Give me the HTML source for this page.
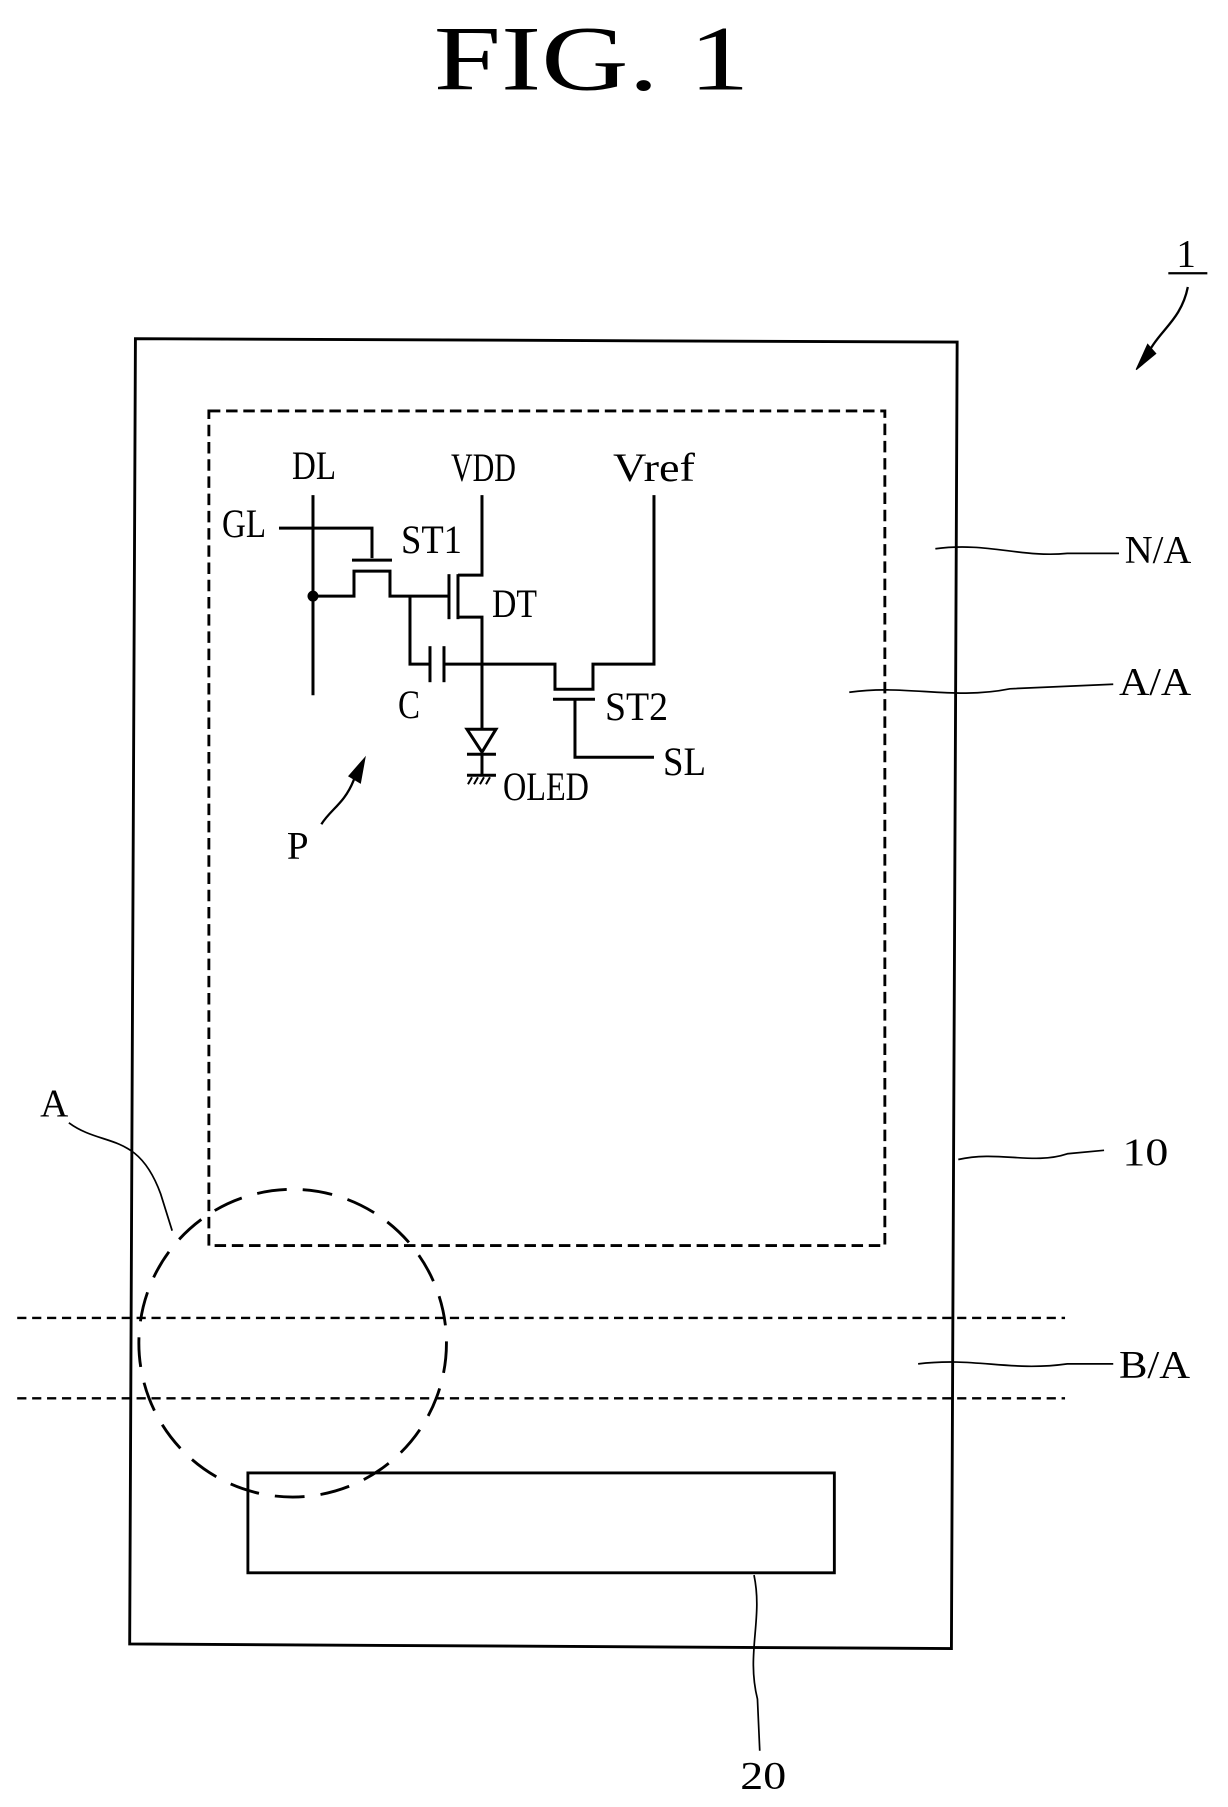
<!DOCTYPE html>
<html><head><meta charset="utf-8"><style>html,body{margin:0;padding:0;background:#fff}svg{display:block}</style></head>
<body>
<svg width="1228" height="1807" viewBox="0 0 1070 1574" preserveAspectRatio="none" xmlns="http://www.w3.org/2000/svg" font-family="'Liberation Serif',serif" fill="none" stroke="#000">
<text x="378" y="78" font-size="80" fill="#000" stroke="none" textLength="275" lengthAdjust="spacingAndGlyphs">FIG. 1</text>
<!-- label 1 -->
<text x="1025" y="232" font-size="34" fill="#000" stroke="none">1</text>
<line x1="1018" y1="238" x2="1052" y2="238" stroke-width="2"/>
<path d="M1035,250 C1030,275 1015,285 1005,300 L993,318" stroke-width="2"/>
<path d="M990,322 L1000,300 L1007,308 Z" fill="#000"/>
<!-- outer panel -->
<polygon points="118,295 834,298 829,1436 113,1432" stroke-width="2.5"/>
<!-- dashed active area -->
<rect x="182" y="358" width="589" height="727" stroke-width="2.5" stroke-dasharray="10,5"/>
<!-- circuit in original-pixel coordinates -->
<g transform="scale(0.8713)" stroke-width="3">
<g fill="#000" stroke="none" font-size="40">
<text x="292" y="479" textLength="44" lengthAdjust="spacingAndGlyphs">DL</text>
<text x="451" y="481" textLength="65" lengthAdjust="spacingAndGlyphs">VDD</text>
<text x="613" y="481" textLength="82" lengthAdjust="spacingAndGlyphs">Vref</text>
<text x="222" y="537" textLength="44" lengthAdjust="spacingAndGlyphs">GL</text>
<text x="401" y="553" textLength="61" lengthAdjust="spacingAndGlyphs">ST1</text>
<text x="492" y="617" textLength="45" lengthAdjust="spacingAndGlyphs">DT</text>
<text x="398" y="718" textLength="22" lengthAdjust="spacingAndGlyphs">C</text>
<text x="605" y="720" textLength="63" lengthAdjust="spacingAndGlyphs">ST2</text>
<text x="663" y="775" textLength="43" lengthAdjust="spacingAndGlyphs">SL</text>
<text x="503" y="800" textLength="86" lengthAdjust="spacingAndGlyphs">OLED</text>
</g>
<line x1="313" y1="495" x2="313" y2="695"/>
<polyline points="279,528 372,528 372,558"/>
<line x1="352" y1="560" x2="392" y2="560"/>
<polyline points="313,596 354,596 354,571 390,571 390,596 449,596"/>
<circle cx="313" cy="596" r="4" fill="#000"/>
<polyline points="410,596 410,664 430,664"/>
<line x1="430" y1="646" x2="430" y2="682"/>
<line x1="444" y1="646" x2="444" y2="682"/>
<polyline points="444,664 555,664 555,689 593,689 593,664 654,664 654,495"/>
<line x1="449" y1="574" x2="449" y2="619"/>
<line x1="458" y1="574" x2="458" y2="619"/>
<polyline points="458,575 482,575 482,495"/>
<polyline points="458,617 482,617 482,729"/>
<polygon points="467,729 496,729 482,752"/>
<line x1="467" y1="754" x2="496" y2="754"/>
<line x1="482" y1="754" x2="482" y2="775"/>
<line x1="467" y1="775" x2="496" y2="775"/>
<path d="M472,777 l-4,7 M478,777 l-4,7 M484,777 l-4,7 M490,777 l-4,7" stroke-width="2"/>
<line x1="553" y1="699" x2="595" y2="699"/>
<polyline points="575,699 575,757 654,757"/>
</g>
<!-- P -->
<text x="250" y="748" font-size="34" fill="#000" stroke="none">P</text>
<path d="M280,718 C288,705 300,700 308,680 L312,670" stroke-width="2"/>
<path d="M318,660 L304,676 L314,682 Z" fill="#000"/>
<!-- leaders & labels -->
<g font-size="34" fill="#000" stroke="none">
<text x="980" y="490" textLength="58" lengthAdjust="spacingAndGlyphs">N/A</text>
<text x="975" y="605" textLength="63" lengthAdjust="spacingAndGlyphs">A/A</text>
<text x="978" y="1015" textLength="40" lengthAdjust="spacingAndGlyphs">10</text>
<text x="975" y="1200" textLength="62" lengthAdjust="spacingAndGlyphs">B/A</text>
<text x="35" y="972">A</text>
<text x="645" y="1558" textLength="40" lengthAdjust="spacingAndGlyphs">20</text>
</g>
<g stroke-width="1.5">
<path d="M815,478 C860,472 890,486 930,482 L975,482"/>
<path d="M740,603 C790,596 830,610 880,600 L970,596"/>
<path d="M835,1010 C870,1002 900,1015 930,1005 L962,1002"/>
<path d="M800,1188 C850,1182 880,1195 930,1188 L970,1188"/>
<path d="M60,978 C90,1000 120,985 140,1040 L150,1072"/>
<path d="M657,1372 C665,1410 650,1440 660,1480 L662,1525"/>
</g>
<!-- B/A dashed lines -->
<line x1="15" y1="1148" x2="928" y2="1148" stroke-width="2" stroke-dasharray="8,5"/>
<line x1="15" y1="1218" x2="928" y2="1218" stroke-width="2" stroke-dasharray="8,5"/>
<!-- circle A -->
<ellipse cx="255" cy="1170" rx="134" ry="134" stroke-width="2.5" stroke-dasharray="26,14"/>
<!-- rect 20 -->
<rect x="216" y="1283" width="511" height="87" stroke-width="2.5"/>
</svg>
</body></html>
